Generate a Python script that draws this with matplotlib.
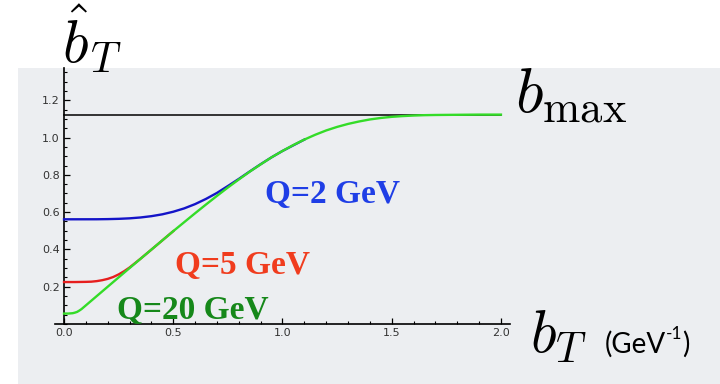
import matplotlib
matplotlib.use("Agg")
import matplotlib.pyplot as plt
from matplotlib.patches import Rectangle
from matplotlib.ticker import MultipleLocator, FormatStrFormatter

# values
bt_green = [0.0, 0.02, 0.04, 0.05, 0.06, 0.07, 0.08, 0.1, 0.2, 0.3, 0.4, 0.5, 0.55,
            0.6, 0.65, 0.7, 0.75, 0.8, 0.85, 0.9, 0.95, 1.0, 1.05, 1.1, 1.15, 1.2,
            1.25, 1.3, 1.35, 1.4, 1.45, 1.5, 1.55, 1.6, 1.65, 1.7, 1.8, 1.9, 2.0]
bhat_q20 = [0.056, 0.056, 0.058, 0.061, 0.065, 0.072, 0.080, 0.100, 0.200, 0.300, 0.399,
            0.498, 0.546, 0.594, 0.641, 0.687, 0.732, 0.775, 0.817, 0.856, 0.894, 0.928,
            0.960, 0.989, 1.015, 1.038, 1.057, 1.073, 1.086, 1.097, 1.105, 1.111, 1.115,
            1.118, 1.120, 1.121, 1.122, 1.123, 1.123]

bt_red = [0.0, 0.05, 0.1, 0.125, 0.15, 0.175, 0.2, 0.225, 0.25, 0.275, 0.3, 0.35, 0.4, 0.5]
bhat_q5 = [0.225, 0.225, 0.226, 0.227, 0.230, 0.235, 0.242, 0.252, 0.266, 0.283, 0.303,
           0.350, 0.399, 0.498]

bt_blue = [0.0, 0.1, 0.15, 0.2, 0.25, 0.3, 0.35, 0.4, 0.45, 0.5, 0.55, 0.6, 0.65, 0.7,
           0.75, 0.8, 0.85, 0.9, 0.95, 1.0, 1.1]
bhat_q2 = [0.5615, 0.5616, 0.5617, 0.5625, 0.564, 0.5667, 0.5713, 0.5783, 0.5882, 0.6021,
           0.620, 0.643, 0.671, 0.703, 0.740, 0.778, 0.818, 0.857, 0.894, 0.928, 0.989]

bmax_x = [0.0, 2.0]
bmax_y = [1.123, 1.123]

x_ticks = [0.0, 0.5, 1.0, 1.5, 2.0]
y_ticks = [0.2, 0.4, 0.6, 0.8, 1.0, 1.2]

plt.rcParams['mathtext.fontset'] = 'cm'

fig = plt.figure(figsize=(7.2, 3.84), dpi=100)
fig.patch.set_facecolor('white')

# grey slide panel behind the plot
fig.patches.append(Rectangle((18 / 720, 0), 1, (384 - 68) / 384,
                             transform=fig.transFigure, facecolor='#eceef1',
                             edgecolor='none', zorder=-5))

ax = fig.add_axes([0.0768, 0.15625, 0.6311, 0.6667])
ax.patch.set_visible(False)

ax.plot(bmax_x, bmax_y, color='black', lw=1.1, zorder=2)
ax.plot(bt_blue, bhat_q2, color='#1414c8', lw=1.7, zorder=3)
ax.plot(bt_red, bhat_q5, color='#e61e1e', lw=1.7, zorder=4)
ax.plot(bt_green, bhat_q20, color='#34dc28', lw=1.7, zorder=5)

ax.set_xlim(-0.04, 2.04)
ax.set_ylim(0, 1.373)

ax.spines['top'].set_visible(False)
ax.spines['right'].set_visible(False)
ax.spines['left'].set_position(('data', 0))
for s in ('left', 'bottom'):
    ax.spines[s].set_linewidth(1.2)

ax.set_xticks(x_ticks)
ax.set_yticks(y_ticks)
ax.xaxis.set_minor_locator(MultipleLocator(0.1))
ax.yaxis.set_minor_locator(MultipleLocator(0.05))
ax.xaxis.set_major_formatter(FormatStrFormatter('%.1f'))
ax.yaxis.set_major_formatter(FormatStrFormatter('%.1f'))
ax.tick_params(which='major', direction='in', length=4, width=0.9,
               labelsize=8, labelcolor='#333333', pad=3)
ax.tick_params(which='minor', direction='in', length=2.5, width=0.8)

# curve labels
ax.text(0.92, 0.692, 'Q=2 GeV', color='#1f3ee6', fontsize=24, fontweight='bold',
        family='Liberation Serif', ha='left', va='center')
ax.text(0.508, 0.316, 'Q=5 GeV', color='#f03c1e', fontsize=24, fontweight='bold',
        family='Liberation Serif', ha='left', va='center')
ax.text(0.243, 0.075, 'Q=20 GeV', color='#16881a', fontsize=24, fontweight='bold',
        family='Liberation Serif', ha='left', va='center', zorder=6)

# axis symbols
fig.text(62 / 720, 1 - 63 / 384, r'$\hat{b}_T$', fontsize=43, ha='left', va='baseline')
fig.text(515 / 720, 1 - 113 / 384, r'$b_{\mathrm{max}}$', fontsize=46,
         ha='left', va='baseline')
fig.text(530 / 720, 1 - 353 / 384, r'$b_T$', fontsize=43, ha='left', va='baseline')

# unit "(GeV-1)" with a raised plain -1
unit = fig.text(605 / 720, 1 - 353 / 384, '(GeV', fontsize=20,
                family='Lato', ha='left', va='baseline')
sup = ax.annotate('-1', xy=(1.0, 0.6), xycoords=unit, fontsize=12.5, family='Lato',
                  ha='left', va='bottom', annotation_clip=False)
ax.annotate(')', xy=(1.0, 0.0), xycoords=(sup, unit), fontsize=20, family='Lato',
            ha='left', va='bottom', annotation_clip=False)

fig.savefig('out.png', dpi=100)
